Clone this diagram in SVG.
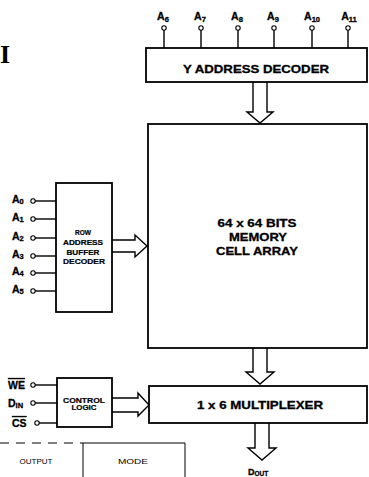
<svg xmlns="http://www.w3.org/2000/svg" width="369" height="477" viewBox="0 0 369 477">
<style>
.box{fill:#fff;stroke:#000;stroke-width:1.8}
.pin{fill:#fff;stroke:#000;stroke-width:1.1}
.wire{stroke:#000;stroke-width:1.4;fill:none}
.arr{fill:none;stroke:#000;stroke-width:1.4;stroke-linejoin:miter}
.t{font-family:"Liberation Sans",Arial,sans-serif;font-weight:bold;fill:#000;stroke:#000;stroke-width:0.3}
.lbl{font-size:10.5px}
.sub{font-size:7.5px}
.big{font-size:11px}
.sm{font-size:6.8px;stroke-width:0.2}
.tbl{font-family:"Liberation Sans",Arial,sans-serif;font-size:8px;fill:#000}
</style>
<rect width="369" height="477" fill="#fff"/>
<text x="0" y="63" style="font-family:'Liberation Serif',serif;font-weight:bold;font-size:26px">I</text>

<g id="connectors">
  <line class="wire" x1="164" y1="30" x2="164" y2="48"/>
  <line class="wire" x1="201" y1="30" x2="201" y2="48"/>
  <line class="wire" x1="238" y1="30" x2="238" y2="48"/>
  <line class="wire" x1="274" y1="30" x2="274" y2="48"/>
  <line class="wire" x1="312" y1="30" x2="312" y2="48"/>
  <line class="wire" x1="348" y1="30" x2="348" y2="48"/>
  <line class="wire" x1="35" y1="201" x2="56" y2="201"/>
  <line class="wire" x1="35" y1="219" x2="56" y2="219"/>
  <line class="wire" x1="35" y1="238" x2="56" y2="238"/>
  <line class="wire" x1="35" y1="256" x2="56" y2="256"/>
  <line class="wire" x1="35" y1="273" x2="56" y2="273"/>
  <line class="wire" x1="35" y1="291" x2="56" y2="291"/>
  <line class="wire" x1="35" y1="385" x2="57" y2="385"/>
  <line class="wire" x1="35" y1="403" x2="57" y2="403"/>
  <line class="wire" x1="39" y1="423" x2="57" y2="423"/>
  <path class="arr" d="M253 82 V112 H247 L260 123 L273 112 H267 V82"/>
  <path class="arr" d="M112 240 H135 V235 L147 246 L135 257 V252 H112"/>
  <path class="arr" d="M253 348 V372 H246 L260 384 L274 372 H267 V348"/>
  <path class="arr" d="M112 398 H138 V393 L149 405 L138 416 V412 H112"/>
  <path class="arr" d="M255 423 V448 H248 L262 460 L276 448 H269 V423"/>
</g>

<g id="pins-top">
  <circle class="pin" cx="164" cy="28" r="2.2"/>
  <circle class="pin" cx="201" cy="28" r="2.2"/>
  <circle class="pin" cx="238" cy="28" r="2.2"/>
  <circle class="pin" cx="274" cy="28" r="2.2"/>
  <circle class="pin" cx="312" cy="28" r="2.2"/>
  <circle class="pin" cx="348" cy="28" r="2.2"/>
  <text class="t lbl" x="163" y="20" text-anchor="middle">A<tspan class="sub" dy="2">6</tspan></text>
  <text class="t lbl" x="200" y="20" text-anchor="middle">A<tspan class="sub" dy="2">7</tspan></text>
  <text class="t lbl" x="237" y="20" text-anchor="middle">A<tspan class="sub" dy="2">8</tspan></text>
  <text class="t lbl" x="273" y="20" text-anchor="middle">A<tspan class="sub" dy="2">9</tspan></text>
  <text class="t lbl" x="312" y="20" text-anchor="middle">A<tspan class="sub" dy="2">10</tspan></text>
  <text class="t lbl" x="349" y="20" text-anchor="middle">A<tspan class="sub" dy="2">11</tspan></text>
</g>

<g id="pins-left">
  <circle class="pin" cx="33" cy="201" r="2.2"/>
  <circle class="pin" cx="33" cy="219" r="2.2"/>
  <circle class="pin" cx="33" cy="238" r="2.2"/>
  <circle class="pin" cx="33" cy="256" r="2.2"/>
  <circle class="pin" cx="33" cy="273" r="2.2"/>
  <circle class="pin" cx="33" cy="291" r="2.2"/>
  <text class="t lbl" x="12" y="203">A<tspan class="sub" dy="1">0</tspan></text>
  <text class="t lbl" x="12" y="221">A<tspan class="sub" dy="1">1</tspan></text>
  <text class="t lbl" x="12" y="240">A<tspan class="sub" dy="1">2</tspan></text>
  <text class="t lbl" x="12" y="258">A<tspan class="sub" dy="1">3</tspan></text>
  <text class="t lbl" x="12" y="275">A<tspan class="sub" dy="1">4</tspan></text>
  <text class="t lbl" x="12" y="293">A<tspan class="sub" dy="1">5</tspan></text>
</g>

<g id="pins-control">
  <circle class="pin" cx="33" cy="385" r="2.2"/>
  <circle class="pin" cx="33" cy="403" r="2.2"/>
  <circle class="pin" cx="37" cy="423" r="2.2"/>
  <text class="t lbl" x="8" y="389" text-decoration="overline">WE</text>
  <text class="t lbl" x="8" y="407">D<tspan class="sub" dy="1">IN</tspan></text>
  <text class="t lbl" x="12" y="427" text-decoration="overline">CS</text>
</g>

<g id="y-decoder">
  <rect class="box" x="146" y="48" width="221" height="34"/>
  <text class="t big" x="256" y="73" text-anchor="middle" textLength="146" lengthAdjust="spacingAndGlyphs">Y ADDRESS DECODER</text>
</g>

<g id="memory">
  <rect class="box" x="148" y="124" width="219" height="224"/>
  <text class="t big" x="257" y="227" text-anchor="middle" textLength="79" lengthAdjust="spacingAndGlyphs">64 x 64 BITS</text>
  <text class="t big" x="258" y="241" text-anchor="middle" textLength="58" lengthAdjust="spacingAndGlyphs">MEMORY</text>
  <text class="t big" x="257" y="255" text-anchor="middle" textLength="82" lengthAdjust="spacingAndGlyphs">CELL ARRAY</text>
</g>

<g id="row-decoder">
  <rect class="box" x="56" y="183" width="56" height="129"/>
  <text class="t sm" x="83" y="235" text-anchor="middle" textLength="16" lengthAdjust="spacingAndGlyphs">ROW</text>
  <text class="t sm" x="83" y="245" text-anchor="middle" textLength="40" lengthAdjust="spacingAndGlyphs">ADDRESS</text>
  <text class="t sm" x="83" y="255" text-anchor="middle" textLength="33" lengthAdjust="spacingAndGlyphs">BUFFER</text>
  <text class="t sm" x="84" y="264" text-anchor="middle" textLength="42" lengthAdjust="spacingAndGlyphs">DECODER</text>
</g>

<g id="control-logic">
  <rect class="box" x="57" y="378" width="55" height="49"/>
  <text class="t sm" x="84" y="403" text-anchor="middle" textLength="42" lengthAdjust="spacingAndGlyphs">CONTROL</text>
  <text class="t sm" x="84" y="410" text-anchor="middle" textLength="25" lengthAdjust="spacingAndGlyphs">LOGIC</text>
</g>

<g id="multiplexer">
  <rect class="box" x="149" y="386" width="218" height="37"/>
  <text class="t big" x="260" y="409" text-anchor="middle" textLength="126" lengthAdjust="spacingAndGlyphs">1 x 6 MULTIPLEXER</text>
</g>

<g id="dout">
  <text class="t" style="font-size:9px" x="248" y="475">D<tspan style="font-size:6.5px" dy="1">OUT</tspan></text>
</g>

<g id="table">
  <line x1="0" y1="443" x2="83" y2="443" stroke="#000" stroke-width="1" stroke-dasharray="9,7"/>
  <path d="M83 477 V443 H185 V477" fill="none" stroke="#000" stroke-width="1"/>
  <text class="tbl" x="36" y="464" text-anchor="middle" textLength="33" lengthAdjust="spacingAndGlyphs">OUTPUT</text>
  <text class="tbl" x="133" y="464" text-anchor="middle" textLength="30" lengthAdjust="spacingAndGlyphs">MODE</text>
</g>
</svg>
